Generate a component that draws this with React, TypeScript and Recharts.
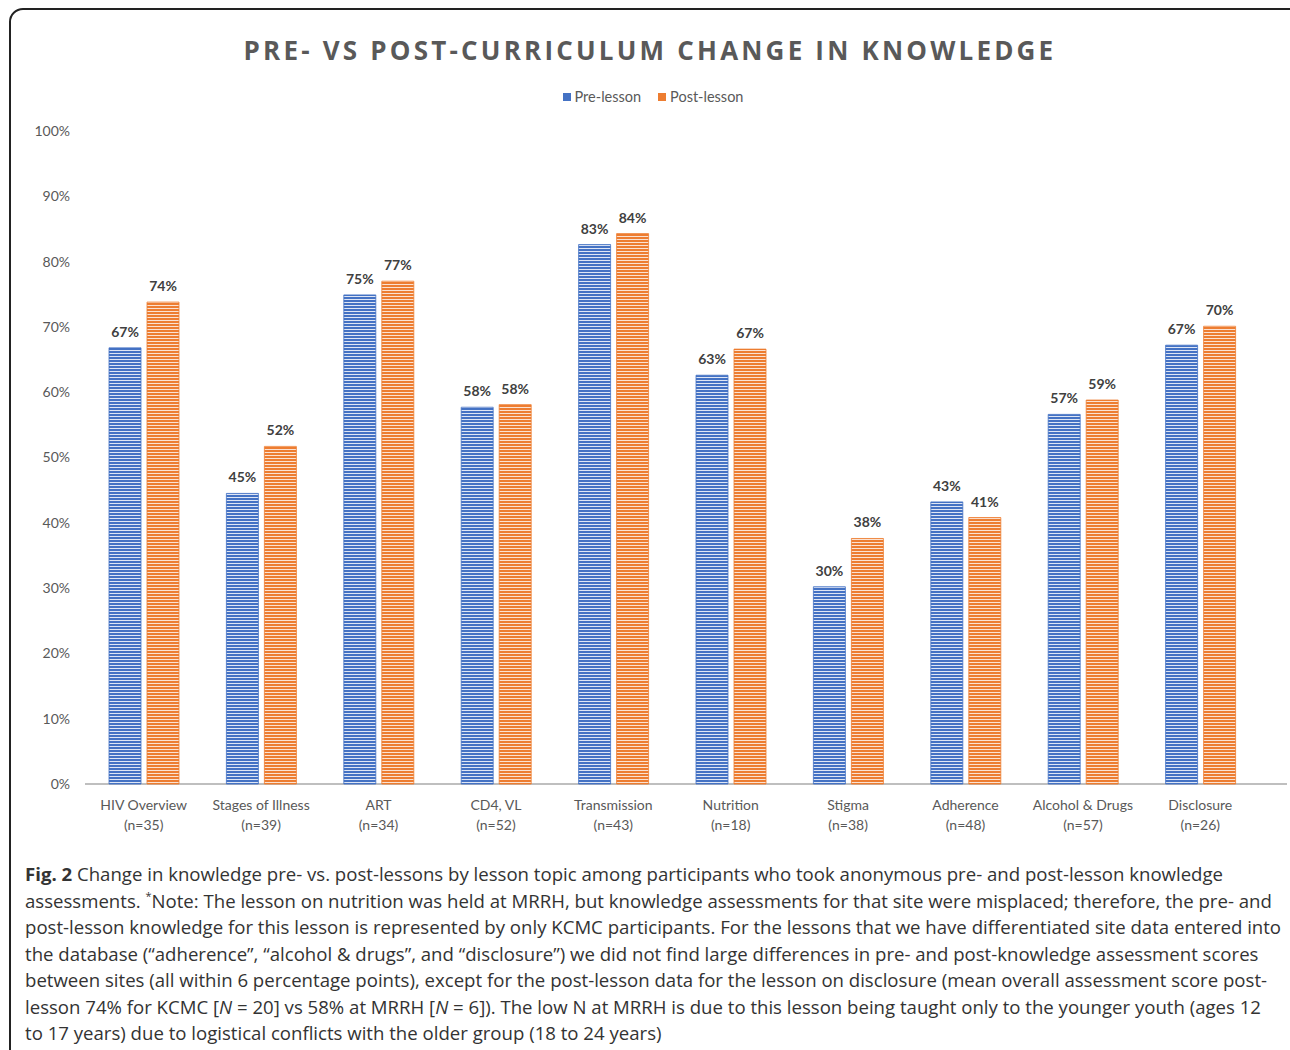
import { BarChart, Bar, XAxis, YAxis, LabelList } from 'recharts';

const topics = ['HIV Overview', 'Stages of Illness', 'ART', 'CD4, VL', 'Transmission', 'Nutrition', 'Stigma', 'Adherence', 'Alcohol & Drugs', 'Disclosure'];
const sampleSizes = ['(n=35)', '(n=39)', '(n=34)', '(n=52)', '(n=43)', '(n=18)', '(n=38)', '(n=48)', '(n=57)', '(n=26)'];
const preLesson = [66.8, 44.5, 74.9, 57.7, 82.6, 62.6, 30.2, 43.2, 56.6, 67.2];
const postLesson = [73.8, 51.7, 77.0, 58.1, 84.3, 66.6, 37.6, 40.8, 58.8, 70.1];
const yTicks = [0, 10, 20, 30, 40, 50, 60, 70, 80, 90, 100];

const BLUE = '#4472C4';
const ORANGE = '#ED7D31';
const GREY = '#595959';

const data = topics.map((topic, i) => ({
  topic,
  n: sampleSizes[i],
  pre: preLesson[i],
  post: postLesson[i],
}));

const TopicTick = ({ x, y, payload, index }: any) => (
  <g transform={`translate(${x},${y})`}>
    <text textAnchor="middle" fill={GREY} fontSize={14} fontFamily="Lato, sans-serif">
      <tspan x={0} dy={18}>{payload.value}</tspan>
      <tspan x={0} dy={20}>{sampleSizes[index]}</tspan>
    </text>
  </g>
);

const pct = (v: any) => `${Math.round(Number(v))}%`;

const labelStyle = { fill: '#404040', fontSize: 14, fontWeight: 700, fontFamily: 'Lato, sans-serif' };

const captionStyle = {
  fontFamily: '"Open Sans", sans-serif',
  fontSize: 18.6,
  color: '#333',
  height: 26.5,
  lineHeight: '26.5px',
  whiteSpace: 'nowrap' as const,
};

export default function App() {
  return (
    <div style={{ position: 'absolute', left: 0, top: 0, width: 1290, height: 1050, overflow: 'hidden', background: '#fff' }}>
      <div
        style={{
          position: 'absolute',
          left: 9,
          top: 8,
          width: 1320,
          height: 1100,
          border: '2px solid #222',
          borderRadius: 14,
          boxSizing: 'border-box',
        }}
      />
      <div
        style={{
          position: 'absolute',
          left: 0,
          top: 32,
          width: 1300,
          textAlign: 'center',
          fontFamily: '"Open Sans", sans-serif',
          fontWeight: 700,
          fontSize: 26,
          letterSpacing: 3.2,
          color: '#595959',
        }}
      >
        PRE- VS POST-CURRICULUM CHANGE IN KNOWLEDGE
      </div>
      <div
        style={{
          position: 'absolute',
          left: 0,
          top: 88,
          width: 1306,
          display: 'flex',
          justifyContent: 'center',
          gap: 17,
          fontFamily: 'Lato, sans-serif',
          fontSize: 14.5,
          color: GREY,
        }}
      >
        <span style={{ display: 'flex', alignItems: 'center' }}>
          <span style={{ width: 8, height: 8, background: BLUE, marginRight: 4 }} />
          Pre-lesson
        </span>
        <span style={{ display: 'flex', alignItems: 'center' }}>
          <span style={{ width: 8, height: 8, background: ORANGE, marginRight: 4 }} />
          Post-lesson
        </span>
      </div>
      <div style={{ position: 'absolute', left: 85, top: 783, width: 1202, height: 2, background: '#bfbfbf' }} />
      <div style={{ position: 'absolute', left: 0, top: 0 }}>
        <BarChart
          width={1290}
          height={850}
          data={data}
          margin={{ top: 131, right: 31, left: 0, bottom: 16 }}
          barSize={32}
          barGap={6}
        >
          <defs>
            <pattern id="preStripes" width="4" height="3" patternUnits="userSpaceOnUse">
              <rect width="4" height="3" fill="#dfe6f5" />
              <rect width="4" height="2" fill={BLUE} />
            </pattern>
            <pattern id="postStripes" width="4" height="3" patternUnits="userSpaceOnUse">
              <rect width="4" height="3" fill="#fbe2d2" />
              <rect width="4" height="2" fill={ORANGE} />
            </pattern>
          </defs>
          <XAxis
            dataKey="topic"
            interval={0}
            tickLine={false}
            axisLine={false}
            tick={<TopicTick />}
            height={50}
          />
          <YAxis
            width={85}
            domain={[0, 100]}
            ticks={yTicks}
            tickFormatter={(v) => `${v}%`}
            axisLine={false}
            tickLine={false}
            tickMargin={9}
            tick={{ fill: GREY, fontSize: 14, fontFamily: 'Lato, sans-serif' }}
          />
          <Bar dataKey="pre" name="Pre-lesson" fill="url(#preStripes)" stroke={BLUE} strokeWidth={0.8} isAnimationActive={false}>
            <LabelList dataKey="pre" position="top" offset={11} formatter={pct} style={labelStyle} />
          </Bar>
          <Bar dataKey="post" name="Post-lesson" fill="url(#postStripes)" stroke={ORANGE} strokeWidth={0.8} isAnimationActive={false}>
            <LabelList dataKey="post" position="top" offset={11} formatter={pct} style={labelStyle} />
          </Bar>
        </BarChart>
      </div>
      <div style={{ position: 'absolute', left: 25, top: 861, width: 1260 }}>
        <div style={captionStyle}>
          <b>Fig. 2</b> Change in knowledge pre- vs. post-lessons by lesson topic among participants who took anonymous pre- and post-lesson knowledge
        </div>
        <div style={captionStyle}>
          assessments. <span style={{ fontSize: 11, position: 'relative', top: -8 }}>*</span>Note: The lesson on nutrition was held at MRRH, but knowledge assessments for that site were misplaced; therefore, the pre- and
        </div>
        <div style={captionStyle}>
          post-lesson knowledge for this lesson is represented by only KCMC participants. For the lessons that we have differentiated site data entered into
        </div>
        <div style={captionStyle}>
          the database (“adherence”, “alcohol &amp; drugs”, and “disclosure”) we did not find large differences in pre- and post-knowledge assessment scores
        </div>
        <div style={captionStyle}>
          between sites (all within 6 percentage points), except for the post-lesson data for the lesson on disclosure (mean overall assessment score post-
        </div>
        <div style={captionStyle}>
          lesson 74% for KCMC [<i>N</i> = 20] vs 58% at MRRH [<i>N</i> = 6]). The low N at MRRH is due to this lesson being taught only to the younger youth (ages 12
        </div>
        <div style={captionStyle}>
          to 17 years) due to logistical conflicts with the older group (18 to 24 years)
        </div>
      </div>
    </div>
  );
}
